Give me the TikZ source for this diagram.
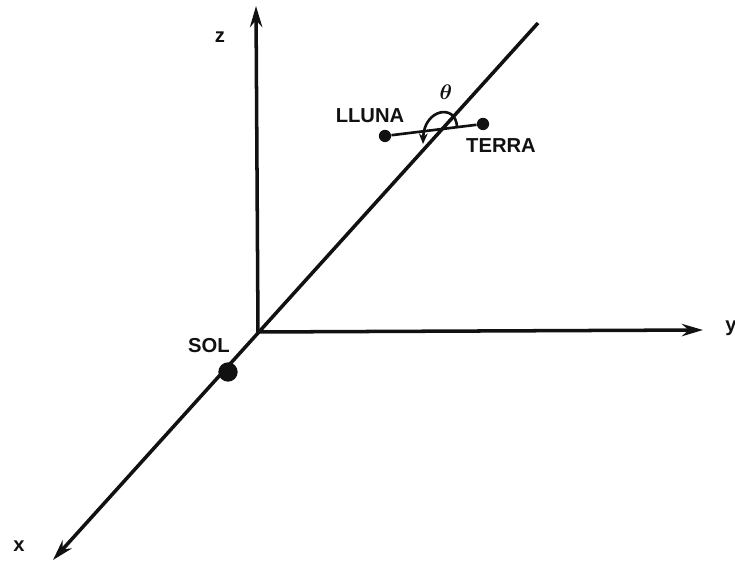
\documentclass[tikz,border=0pt]{standalone}
\usepackage{fontspec}
\setsansfont{Liberation Sans}
\usepackage{tikz}
\usetikzlibrary{arrows.meta,positioning,calc}
\usepackage{xcolor}
\definecolor{Ink}{HTML}{111111}

\begin{document}
\begin{tikzpicture}[x=0.02cm,y=0.02cm,>={Stealth[length=12pt,width=7pt]},
  every node/.style={font=\sffamily\bfseries\fontsize{11.5}{13}\selectfont,text=Ink,inner sep=0pt},
  axis/.style={draw=Ink,line width=2pt},
  body/.style={circle,fill=Ink,minimum size=10pt},
  rod/.style={draw=Ink,line width=1.5pt}]
  \useasboundingbox (0,0) rectangle (735,561);
  % axes
  \coordinate (O) at (258,229);
  \coordinate (zend) at (256,555);
  \coordinate (yend) at (703,231);
  \coordinate (xend) at (53,1);
  \coordinate (far) at (538,538);
  \draw[axis,->] (O) -- (zend);
  \draw[axis,->] (O) -- (yend);
  \draw[axis,->] (far) -- (xend);
  \node (zlab) at (220,524) {z};
  \node (ylab) at (731,233) {y};
  \node (xlab) at (19,15) {x};
  % sun
  \node[body,minimum size=11pt] (sol) at (228,189) {};
  \node (sollab) at (209,215) {SOL};
  % moon and earth
  \node[body,minimum size=7pt] (lluna) at (385,425) {};
  \node[body,minimum size=7pt] (terra) at (483,437) {};
  \draw[rod] (lluna) -- (terra);
  \node (llunalab) at (370,445) {LLUNA};
  \node (terralab) at (501,415) {TERRA};
  \node[font=\fontsize{13}{15}\selectfont\boldmath] (theta) at (446,469) {$\theta$};
  \coordinate (arcstart) at (457,434);
  \coordinate (arcend) at (423,417);
  \draw[rod,->,>={Stealth[length=6pt,width=5pt,open]}] (arcstart) .. controls (456,458) and (424,452) .. (arcend);
\end{tikzpicture}
\end{document}
